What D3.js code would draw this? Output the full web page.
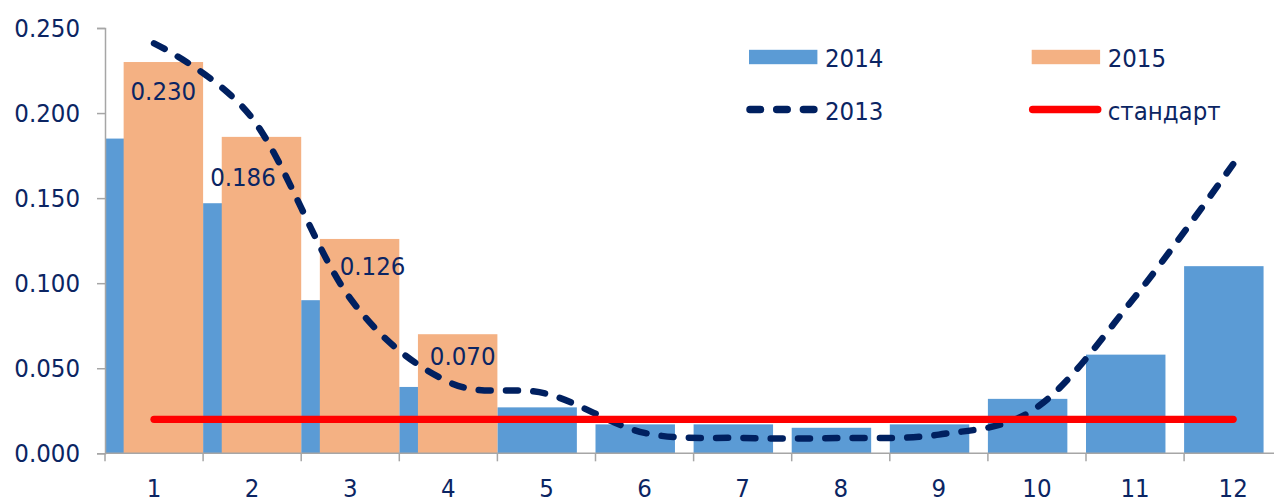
<!DOCTYPE html>
<html>
<head>
<meta charset="utf-8">
<script src="https://cdn.jsdelivr.net/npm/d3@7"></script>
<style>
  html, body { margin: 0; padding: 0; background: #ffffff; }
  svg { display: block; }
  text { font-family: "DejaVu Sans Condensed", "DejaVu Sans", sans-serif; font-stretch: condensed; fill: #0b2563; }
</style>
</head>
<body>
<svg id="chart" width="1274" height="497"></svg>
<script>
// ---- data ----
const categories = ["1","2","3","4","5","6","7","8","9","10","11","12"];
const values2014 = [0.185, 0.147, 0.090, 0.039, 0.027, 0.017, 0.017, 0.015, 0.017, 0.032, 0.058, 0.110];
const values2015 = [0.230, 0.186, 0.126, 0.070, null, null, null, null, null, null, null, null];
const values2013 = [0.241, 0.197, 0.091, 0.042, 0.035, 0.012, 0.009, 0.009, 0.011, 0.027, 0.092, 0.170];
const valuesStandard = [0.020, 0.020, 0.020, 0.020, 0.020, 0.020, 0.020, 0.020, 0.020, 0.020, 0.020, 0.020];
const yTicks = [0, 0.05, 0.10, 0.15, 0.20, 0.25];
const seriesNames = ["2014", "2015", "2013", "стандарт"];

// ---- layout / style ----
const plotLeft = 105, plotRight = 1282.2, plotTop = 28, plotBottom = 453.3;
const colors = { s2014: "#5b9bd5", s2015: "#f4b183", s2013: "#002060", std: "#ff0000", axis: "#a6a6a6", text: "#0b2563" };
const barFrac = 0.81;
const fontSize = 25.5;
// manual label nudges (dx from bar centre, dy below bar top) as in the original
const labelNudge = [[0, 38], [-18.5, 48.7], [13, 36], [5, 30.7]];

const svg = d3.select("#chart");

const x = d3.scaleBand().domain(categories).range([plotLeft, plotRight]).paddingInner(0).paddingOuter(0);
const y = d3.scaleLinear().domain([0, 0.25]).range([plotBottom, plotTop]);
const bw = x.bandwidth();
const cx = c => x(c) + bw / 2;

// bars 2014
svg.append("g").selectAll("rect")
  .data(categories.map((c, i) => ({ c, v: values2014[i] })))
  .join("rect")
  .attr("x", d => x(d.c))
  .attr("width", bw * barFrac)
  .attr("y", d => y(d.v))
  .attr("height", d => y(0) - y(d.v))
  .attr("fill", colors.s2014);

// bars 2015
const d2015 = categories.map((c, i) => ({ c, v: values2015[i], i })).filter(d => d.v != null);
svg.append("g").selectAll("rect")
  .data(d2015)
  .join("rect")
  .attr("x", d => x(d.c) + bw * (1 - barFrac))
  .attr("width", bw * barFrac)
  .attr("y", d => y(d.v))
  .attr("height", d => y(0) - y(d.v))
  .attr("fill", colors.s2015);

// axes
const yAxis = d3.axisLeft(y).tickValues(yTicks).tickFormat(d3.format(".3f")).tickSize(8).tickPadding(17);
const gy = svg.append("g").attr("transform", `translate(${plotLeft},0)`).call(yAxis);
gy.select(".domain").attr("stroke", colors.axis).attr("stroke-width", 1.5);
gy.selectAll(".tick line").attr("stroke", colors.axis).attr("stroke-width", 1.5);
gy.selectAll(".tick text").attr("font-size", fontSize).attr("fill", colors.text)
  .style("font-family", '"DejaVu Sans Condensed", "DejaVu Sans", sans-serif');

const gx = svg.append("g").attr("transform", `translate(0,${plotBottom})`);
gx.append("line").attr("x1", plotLeft).attr("x2", plotRight).attr("y1", 0).attr("y2", 0)
  .attr("stroke", colors.axis).attr("stroke-width", 1.5);
gx.selectAll("line.tk").data(categories.concat(["end"])).join("line").attr("class", "tk")
  .attr("x1", (d, i) => plotLeft + i * bw).attr("x2", (d, i) => plotLeft + i * bw)
  .attr("y1", 0).attr("y2", 8).attr("stroke", colors.axis).attr("stroke-width", 1.5);
gx.selectAll("text").data(categories).join("text")
  .attr("x", d => cx(d)).attr("y", 43.5).attr("text-anchor", "middle")
  .attr("font-size", fontSize).text(d => d);

// 2013 smoothed dashed line
const line = d3.line().x(d => cx(d.c)).y(d => y(d.v)).curve(d3.curveCatmullRom.alpha(0));
svg.append("path")
  .datum(categories.map((c, i) => ({ c, v: values2013[i] })))
  .attr("d", line)
  .attr("fill", "none").attr("stroke", colors.s2013).attr("stroke-width", 6.5)
  .attr("stroke-linecap", "round").attr("stroke-dasharray", "12,15.3");

// standard line
svg.append("path")
  .datum(categories.map((c, i) => ({ c, v: valuesStandard[i] })))
  .attr("d", d3.line().x(d => cx(d.c)).y(d => y(d.v)))
  .attr("fill", "none").attr("stroke", colors.std).attr("stroke-width", 7.3)
  .attr("stroke-linecap", "round");

// data labels for 2015
svg.append("g").selectAll("text")
  .data(d2015)
  .join("text")
  .attr("x", d => x(d.c) + bw * (1 - barFrac) + bw * barFrac / 2 + labelNudge[d.i][0])
  .attr("y", d => y(d.v) + labelNudge[d.i][1])
  .attr("text-anchor", "middle").attr("font-size", fontSize)
  .text(d => d3.format(".3f")(d.v));

// legend
const lg = svg.append("g");
const legendItems = [
  { name: seriesNames[0], type: "bar", color: colors.s2014, x: 749, y: 57 },
  { name: seriesNames[1], type: "bar", color: colors.s2015, x: 1031.7, y: 57 },
  { name: seriesNames[2], type: "dash", color: colors.s2013, x: 749, y: 109.5 },
  { name: seriesNames[3], type: "line", color: colors.std, x: 1031.7, y: 109.5 }
];
legendItems.forEach(it => {
  if (it.type === "bar") {
    lg.append("rect").attr("x", it.x).attr("y", it.y - 7.2).attr("width", 68.4).attr("height", 14.4).attr("fill", it.color);
  } else if (it.type === "dash") {
    lg.append("line").attr("x1", it.x + 1).attr("x2", it.x + 67).attr("y1", it.y).attr("y2", it.y)
      .attr("stroke", it.color).attr("stroke-width", 7.5).attr("stroke-linecap", "round").attr("stroke-dasharray", "10.5,16.2");
  } else {
    lg.append("line").attr("x1", it.x + 1).attr("x2", it.x + 66).attr("y1", it.y).attr("y2", it.y)
      .attr("stroke", it.color).attr("stroke-width", 7.5).attr("stroke-linecap", "round");
  }
  lg.append("text").attr("x", it.x + 76).attr("y", it.y + 10).attr("font-size", fontSize).text(it.name);
});
</script>
</body>
</html>
